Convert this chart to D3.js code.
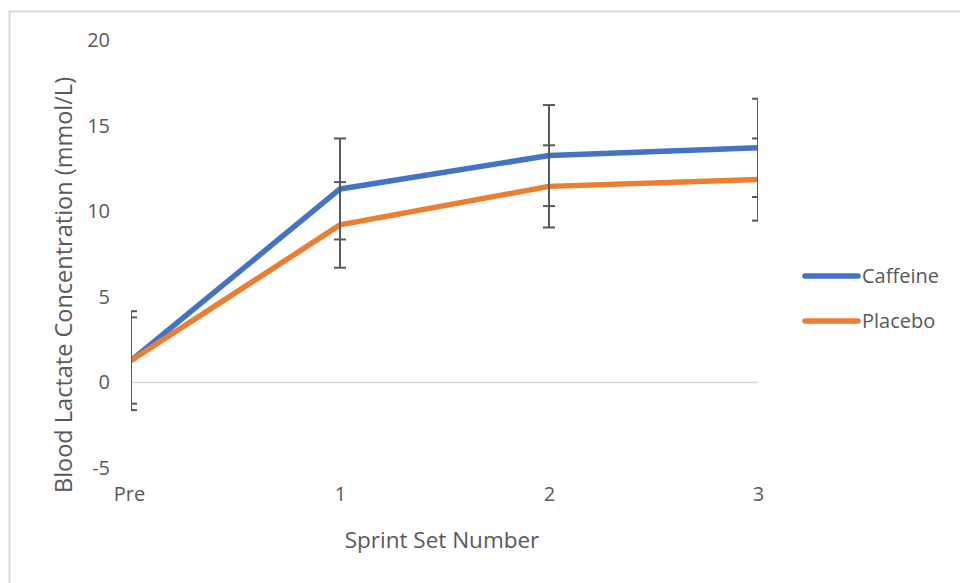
<!DOCTYPE html>
<html>
<head>
<meta charset="utf-8">
<script src="https://cdn.jsdelivr.net/npm/d3@7"></script>
<style>
  body { margin: 0; background: #fff; }
  text { font-family: "Open Sans", sans-serif; fill: #595959; }
</style>
</head>
<body>
<div id="chart"></div>
<script>
(function(){
    const categories = ['Pre', '1', '2', '3'];
    const caffeine = [1.27, 11.3, 13.25, 13.7];
    const caffeineErr = [2.89, 2.95, 2.95, 2.87];
    const placebo = [1.28, 9.2, 11.45, 11.85];
    const placeboErr = [2.52, 2.5, 2.4, 2.4];
    const yTicks = [-5, 0, 5, 10, 15, 20];

    const series = [
        { name: 'Caffeine', values: caffeine, err: caffeineErr, color: '#4472C4' },
        { name: 'Placebo', values: placebo, err: placeboErr, color: '#ED7D31' },
    ];

    const fullWidth = 960;
    const fullHeight = 583;
    const plot = { left: 131, right: 758, top: 40, bottom: 468 };

    const svg = d3.select('#chart')
        .append('svg')
            .attr('width', fullWidth)
            .attr('height', fullHeight);

    // chart border (runs off right and bottom edges)
    svg.append('rect')
        .attr('x', 9.5).attr('y', 11.5)
        .attr('width', 970).attr('height', 600)
        .attr('fill', 'none')
        .attr('stroke', '#d9d9d9')
        .attr('stroke-width', 2);

    const xScale = d3.scalePoint()
        .domain(categories)
        .range([plot.left, plot.right]);

    const yScale = d3.scaleLinear()
        .domain([-5, 20])
        .range([plot.bottom, plot.top]);

    // y axis labels
    const yAxis = d3.axisLeft(yScale)
        .tickValues(yTicks)
        .tickFormat(d => String(d))
        .tickSize(0).tickPadding(0);
    svg.append('g')
        .attr('transform', `translate(${plot.left - 21}, 0)`)
        .call(yAxis)
        .call(g => g.select('.domain').remove())
        .selectAll('text')
            .style('font-size', '20px')
            .style('font-family', '"Open Sans", sans-serif')
            .attr('fill', '#595959');

    // zero line
    svg.append('line')
        .attr('x1', plot.left).attr('x2', plot.right)
        .attr('y1', yScale(0)).attr('y2', yScale(0))
        .attr('stroke', '#d9d9d9')
        .attr('stroke-width', 1.5);

    // x axis labels
    const xAxis = d3.axisBottom(xScale).tickSize(0).tickPadding(0);
    svg.append('g')
        .attr('transform', `translate(0, ${plot.bottom + 19})`)
        .call(xAxis)
        .call(g => g.select('.domain').remove())
        .selectAll('text')
            .attr('dx', d => d === 'Pre' ? -2 : 0)
            .style('font-size', '20px')
            .style('font-family', '"Open Sans", sans-serif')
            .attr('fill', '#595959');

    // axis titles
    svg.append('text')
        .attr('x', 442).attr('y', 548)
        .attr('text-anchor', 'middle')
        .style('font-size', '22.5px')
        .text('Sprint Set Number');

    svg.append('text')
        .attr('transform', `translate(72, 285) rotate(-90)`)
        .attr('text-anchor', 'middle')
        .style('font-size', '23.5px')
        .text('Blood Lactate Concentration (mmol/L)');

    svg.append('clipPath').attr('id', 'plotClip')
        .append('rect')
        .attr('x', plot.left).attr('y', 0)
        .attr('width', plot.right - plot.left).attr('height', fullHeight);

    const line = d3.line()
        .x((d, i) => xScale(categories[i]))
        .y(d => yScale(d));

    const g = svg.append('g').attr('clip-path', 'url(#plotClip)');

    series.forEach(s => {
        g.append('path')
            .datum(s.values)
            .attr('fill', 'none')
            .attr('stroke', s.color)
            .attr('stroke-width', 5.5)
            .attr('stroke-linejoin', 'round')
            .attr('d', line);
    });

    // error bars
    series.forEach(s => {
        const bars = g.selectAll(null)
            .data(s.values.map((v, i) => ({ cat: categories[i], v, e: s.err[i] })))
            .enter()
            .append('g')
                .attr('transform', d => `translate(${xScale(d.cat)}, 0)`);

        bars.append('line')
            .attr('y1', d => yScale(d.v + d.e))
            .attr('y2', d => yScale(d.v - d.e))
            .attr('stroke', '#595959')
            .attr('stroke-width', 2);

        [1, -1].forEach(sign => {
            bars.append('line')
                .attr('x1', -6).attr('x2', 6)
                .attr('y1', d => yScale(d.v + sign * d.e))
                .attr('y2', d => yScale(d.v + sign * d.e))
                .attr('stroke', '#595959')
                .attr('stroke-width', 2);
        });
    });

    // legend
    const legend = svg.selectAll('.legend')
        .data(series)
        .enter()
        .append('g')
            .attr('class', 'legend')
            .attr('transform', (d, i) => `translate(803, ${276 + i * 45})`);

    legend.append('line')
        .attr('x1', 2).attr('x2', 55)
        .attr('stroke', d => d.color)
        .attr('stroke-width', 5.5)
        .attr('stroke-linecap', 'round');

    legend.append('text')
        .attr('x', 59)
        .attr('y', 7)
        .style('font-size', '20px')
        .text(d => d.name);
}())
</script>
</body>
</html>
